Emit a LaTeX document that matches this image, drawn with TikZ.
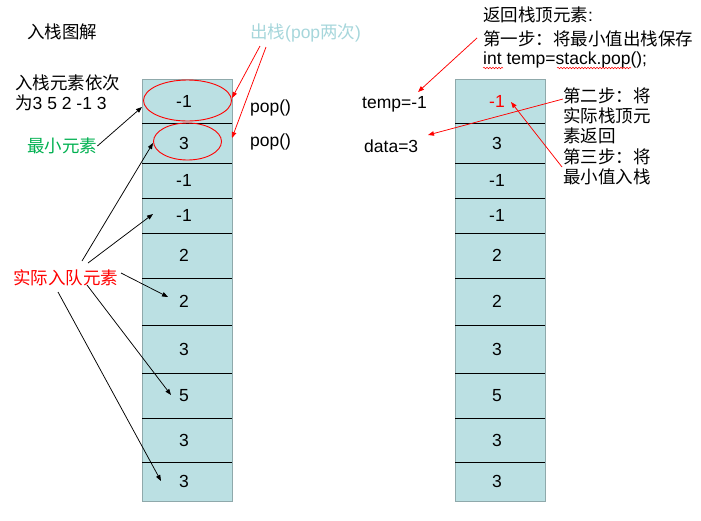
\documentclass[tikz,border=0pt]{standalone}
\usepackage{fontspec}
\setmainfont{Liberation Sans}
\newfontfamily\cjk{Noto Sans CJK SC}
\usetikzlibrary{arrows.meta,shapes.geometric,decorations.pathmorphing}
\definecolor{stackfill}{HTML}{BBE0E3}
\definecolor{stackedge}{HTML}{8FA9AB}
\definecolor{popblue}{HTML}{A6D6DB}
\definecolor{mingreen}{HTML}{00B050}
\begin{document}
\begin{tikzpicture}[x=1pt,y=-1pt,
  txt/.style={font=\fontsize{17.5}{21}\selectfont, inner sep=0pt, anchor=west},
  val/.style={font=\fontsize{17.5}{21}\selectfont, inner sep=0pt},
  stackbox/.style={draw=stackedge, fill=stackfill, line width=0.8pt, minimum width=90pt, minimum height=422pt, inner sep=0pt},
  divider/.style={draw=black, line width=0.8pt},
  blk/.style={draw=black, line width=0.75pt, -{Triangle[length=6pt,width=4.5pt]}},
  redarr/.style={draw=red, line width=0.75pt, -{Triangle[length=6pt,width=4.5pt]}},
  oval/.style={draw=red, line width=0.9pt, ellipse, inner sep=0pt},
  squiggle/.style={draw=red, line width=0.5pt, decorate, decoration={snake, amplitude=0.8pt, segment length=3pt}}
]
\useasboundingbox (0,0) rectangle (701,520);

% stacks
\node[stackbox] (LS) at (187,290) {};
\node[stackbox] (RS) at (500,290) {};
\foreach \y in {123,163,198,233,278,325,373,418,462} {
  \draw[divider] (142,\y) -- (232,\y);
  \draw[divider] (455,\y) -- (545,\y);
}
\foreach \t/\b/\v/\c [count=\i] in {79/123/-1/red,123/163/3/black,163/198/-1/black,198/233/-1/black,233/278/2/black,278/325/2/black,325/373/3/black,373/418/5/black,418/462/3/black,462/501/3/black} {
  \node[val] (L\i) at (184,{(\t+\b)/2}) {\v};
  \node[val, text=\c] (R\i) at (497,{(\t+\b)/2}) {\v};
}

% ellipses
\node[oval, minimum width=88pt, minimum height=41pt] (E1) at (187.5,100.5) {};
\node[oval, minimum width=68pt, minimum height=37pt] (E2) at (187.5,141.5) {};

% left texts
\node[txt] (title) at (27,32) {\cjk 入栈图解};
\node[txt, text=popblue] (popt) at (250,33) {{\cjk 出栈}(pop{\cjk 两次})};
\node[txt] (order1) at (15,83) {\cjk 入栈元素依次};
\node[txt] (order2) at (15,103) {{\cjk 为}3 5 2 -1 3};
\node[txt, text=mingreen] (minel) at (27,146) {\cjk 最小元素};
\node[txt] (pop1) at (250,108) {pop()};
\node[txt] (pop2) at (250,142) {pop()};
\node[txt, text=red] (actual) at (13,278) {\cjk 实际入队元素};

% right texts
\node[txt] (temp) at (362,104) {temp=-1};
\node[txt] (data) at (364,146) {data=3};
\node[txt] (ret1) at (483,15) {{\cjk 返回栈顶元素}:};
\node[txt] (ret2) at (483,39) {\cjk 第一步：将最小值出栈保存};
\node[txt] (ret3) at (483,60) {int temp=stack.pop();};
\node[txt] (s2a) at (563,96) {\cjk 第二步：将};
\node[txt] (s2b) at (563,116) {\cjk 实际栈顶元};
\node[txt] (s2c) at (563,136) {\cjk 素返回};
\node[txt] (s3a) at (563,157) {\cjk 第三步：将};
\node[txt] (s3b) at (563,177) {\cjk 最小值入栈};

% spell-check squiggles
\draw[squiggle] (483,68) -- (503,68);
\draw[squiggle] (557,68) -- (631,68);

% connector end points
\coordinate (p1s) at (260,46);
\coordinate (p1e) at (232,98);
\coordinate (p2s) at (266,47);
\coordinate (p2e) at (232,138);
\coordinate (m1e) at (142,107);
\coordinate (a1s) at (82,261);
\coordinate (a1e) at (153,143);
\coordinate (a2s) at (88,263);
\coordinate (a2e) at (153,214);
\coordinate (a3s) at (121,273);
\coordinate (a3e) at (168,297);
\coordinate (a4s) at (87,285);
\coordinate (a4e) at (171,395);
\coordinate (a5s) at (58,292);
\coordinate (a5e) at (161,481);
\coordinate (r1s) at (477,38);
\coordinate (r1e) at (418,92);
\coordinate (r2s) at (563,99);
\coordinate (r2e) at (428,135);
\coordinate (r3s) at (562,167);
\coordinate (r3e) at (511,102);

% arrows
\draw[redarr] (p1s) -- (p1e);
\draw[redarr] (p2s) -- (p2e);
\draw[blk] (minel.east) -- (m1e);
\draw[blk] (a1s) -- (a1e);
\draw[blk] (a2s) -- (a2e);
\draw[blk] (a3s) -- (a3e);
\draw[blk] (a4s) -- (a4e);
\draw[blk] (a5s) -- (a5e);
\draw[redarr] (r1s) -- (r1e);
\draw[redarr] (r2s) -- (r2e);
\draw[redarr] (r3s) -- (r3e);
\end{tikzpicture}
\end{document}
